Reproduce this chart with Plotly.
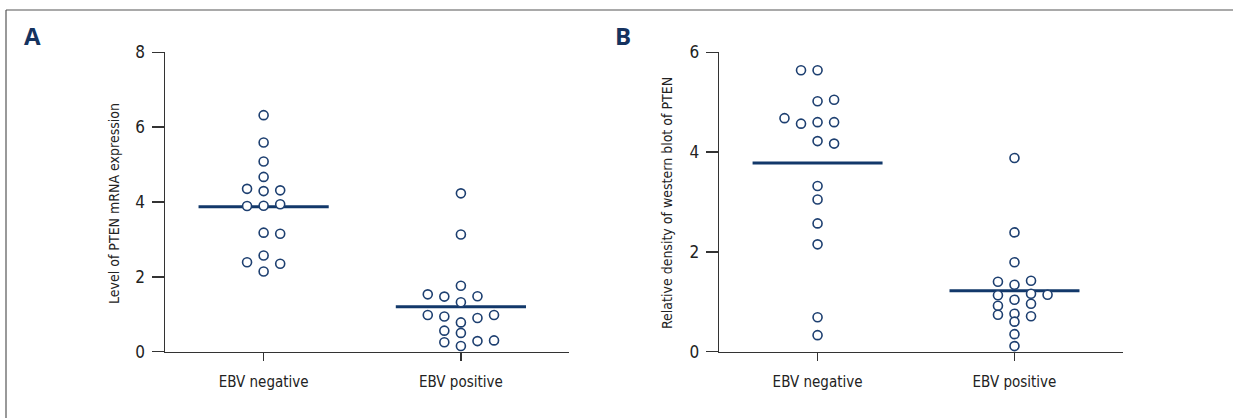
import plotly.graph_objects as go

# ---------------- data ----------------
categories = ["EBV negative", "EBV positive"]

# Panel A: Level of PTEN mRNA expression
a_neg_vals = [6.32, 5.59, 5.08, 4.67, 4.35, 4.29, 4.31, 3.89, 3.90, 3.94, 3.18, 3.15, 2.39, 2.57, 2.35, 2.14]
a_neg_cols = [0, 0, 0, 0, -1, 0, 1, -1, 0, 1, 0, 1, -1, 0, 1, 0]
a_pos_vals = [4.23, 3.13, 1.76, 1.53, 1.47, 1.32, 1.48, 0.98, 0.94, 0.78, 0.90, 0.98,
              0.56, 0.50, 0.25, 0.15, 0.28, 0.30]
a_pos_cols = [0, 0, 0, -2, -1, 0, 1, -2, -1, 0, 1, 2, -1, 0, -1, 0, 1, 2]
a_medians = [3.875, 1.20]

# Panel B: Relative density of western blot of PTEN
b_neg_vals = [5.64, 5.64, 5.02, 5.05, 4.68, 4.57, 4.60, 4.60, 4.22, 4.17, 3.32, 3.05, 2.57, 2.15, 0.69, 0.33]
b_neg_cols = [-1, 0, 0, 1, -2, -1, 0, 1, 0, 1, 0, 0, 0, 0, 0, 0]
b_pos_vals = [3.88, 2.39, 1.79, 1.40, 1.34, 1.42, 1.13, 1.16, 1.14, 1.04, 0.92, 0.96,
              0.74, 0.76, 0.71, 0.60, 0.35, 0.11]
b_pos_cols = [0, 0, 0, -1, 0, 1, -1, 1, 2, 0, -1, 1, -1, 0, 1, 0, 0, 0]
b_medians = [3.78, 1.22]

a_yticks = [0, 2, 4, 6, 8]
b_yticks = [0, 2, 4, 6]

# ---------------- style ----------------
W, H = 1233, 418
NAVY = "#1d3f70"
LINE_NAVY = "#12386a"
AX = "#333333"
FONT = "DejaVu Sans Condensed, Roboto, sans-serif"
COL_STEP = 0.084
HALF = 0.33

fig = go.Figure()

def add_panel(xref, yref, neg_vals, neg_cols, pos_vals, pos_cols, medians):
    for i, m in enumerate(medians):
        fig.add_trace(go.Scatter(
            x=[i - HALF, i + HALF], y=[m, m], mode="lines",
            line=dict(color=LINE_NAVY, width=3),
            xaxis=xref, yaxis=yref, showlegend=False, hoverinfo="skip"))
    for i, (vals, cols) in enumerate([(neg_vals, neg_cols), (pos_vals, pos_cols)]):
        fig.add_trace(go.Scatter(
            x=[i + c * COL_STEP for c in cols], y=vals, mode="markers",
            marker=dict(symbol="circle", size=9, color="white",
                        line=dict(color=NAVY, width=1.6)),
            xaxis=xref, yaxis=yref, showlegend=False, cliponaxis=False))

add_panel("x", "y", a_neg_vals, a_neg_cols, a_pos_vals, a_pos_cols, a_medians)
add_panel("x2", "y2", b_neg_vals, b_neg_cols, b_pos_vals, b_pos_cols, b_medians)

ydom = [1 - 351.6 / H, 1 - 52.3 / H]

xaxis_common = dict(
    range=[-0.5, 1.55], tickmode="array", tickvals=[0, 1], ticktext=categories,
    showline=True, linecolor=AX, linewidth=1.5, ticks="outside", ticklen=8,
    tickwidth=1.5, tickcolor=AX, showgrid=False, zeroline=False,
    tickfont=dict(family=FONT, size=15, color="#222222"), ticklabelstandoff=8,
    fixedrange=True)
yaxis_common = dict(
    showline=True, linecolor=AX, linewidth=1.5, ticks="outside", ticklen=12,
    tickwidth=1.5, tickcolor=AX, showgrid=False, zeroline=False,
    tickfont=dict(family=FONT, size=17, color="#222222"), ticklabelstandoff=3,
    domain=ydom, fixedrange=True)

fig.update_layout(
    width=W, height=H, margin=dict(l=0, r=0, t=0, b=0, pad=0, autoexpand=False),
    paper_bgcolor="white", plot_bgcolor="white",
    xaxis=dict(xaxis_common, domain=[165 / W, 569.4 / W], anchor="y"),
    yaxis=dict(yaxis_common, range=[0, 8], tickvals=a_yticks, anchor="x"),
    xaxis2=dict(xaxis_common, domain=[719.1 / W, 1122.8 / W], anchor="y2"),
    yaxis2=dict(yaxis_common, range=[0, 6], tickvals=b_yticks, anchor="x2"),
)

fig.add_annotation(text="Level of PTEN mRNA expression", x=113.5 / W, y=1 - 203.5 / H,
                   xref="paper", yref="paper", textangle=-90, showarrow=False,
                   xanchor="center", yanchor="middle",
                   font=dict(family=FONT, size=14, color="#222222"))
fig.add_annotation(text="Relative density of western blot of PTEN", x=666.6 / W, y=1 - 203.5 / H,
                   xref="paper", yref="paper", textangle=-90, showarrow=False,
                   xanchor="center", yanchor="middle",
                   font=dict(family=FONT, size=14, color="#222222"))
for letter, px in [("A", 32.5), ("B", 623)]:
    fig.add_annotation(text="<b>%s</b>" % letter, x=px / W, y=1 - 35.5 / H,
                       xref="paper", yref="paper", showarrow=False,
                       xanchor="center", yanchor="middle",
                       font=dict(family="Open Sans, Noto Sans, sans-serif", size=24, color="#15335f"))

fig.add_shape(type="line", xref="paper", yref="paper", x0=6 / W, x1=1.0,
              y0=1 - 10 / H, y1=1 - 10 / H, line=dict(color="#555555", width=1.2))
fig.add_shape(type="line", xref="paper", yref="paper", x0=6 / W, x1=6 / W,
              y0=0, y1=1 - 10 / H, line=dict(color="#555555", width=1.2))

fig.write_html("out.html", config={"displayModeBar": False, "staticPlot": True},
               post_script="document.body.style.margin='0';document.body.style.overflow='hidden';")
